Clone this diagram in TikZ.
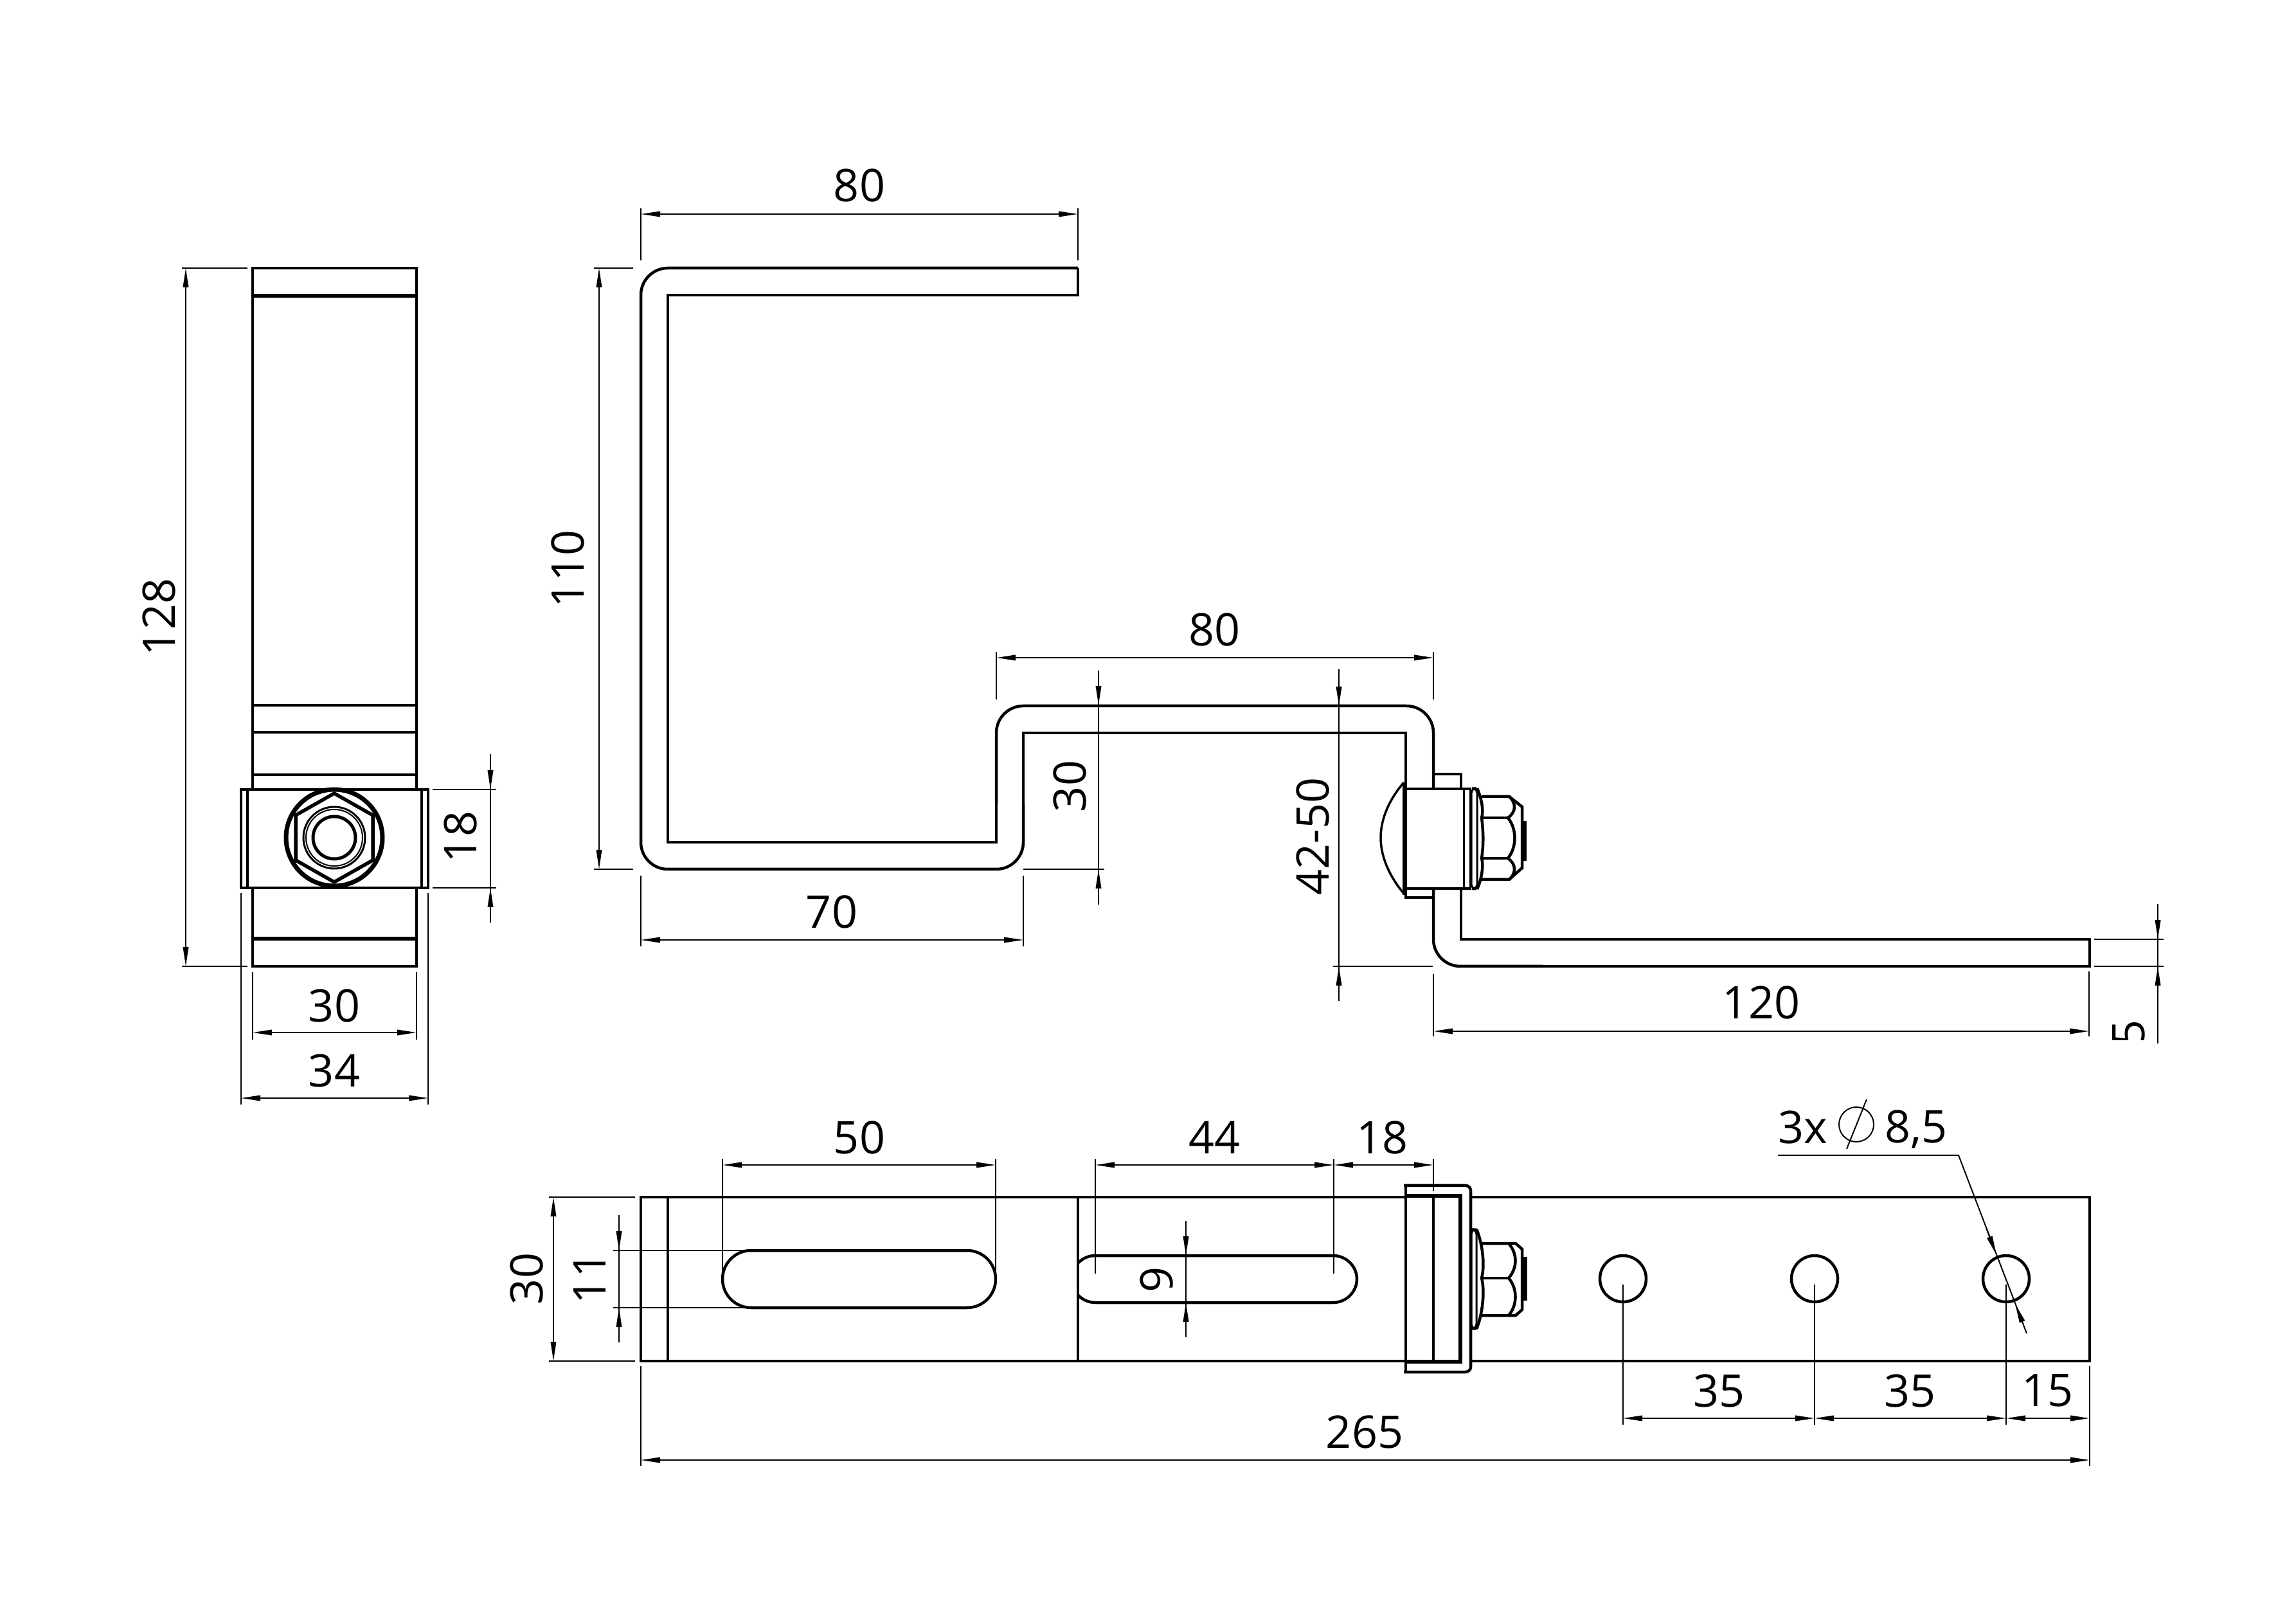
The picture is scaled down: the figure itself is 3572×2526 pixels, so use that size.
\documentclass[tikz,border=0pt]{standalone}
\usepackage{fontspec}
\setmainfont{Open Sans}
\usetikzlibrary{arrows.meta}
\tikzset{
    part/.style = {draw, line width=0.9pt, line join=miter}, % contour of the parts
    fine/.style = {draw, line width=0.4pt}, % extension lines
    dimen/.style = {fine, {Triangle[length=6pt,width=1.7pt]}-{Triangle[length=6pt,width=1.7pt]}},
    tipend/.style = {fine, -{Triangle[length=6pt,width=1.7pt]}},
    lab/.style = {inner sep=0pt, font=\fontsize{14}{16}\selectfont},
    labv/.style = {lab, rotate=90},
}
\begin{document}
\begin{tikzpicture}[x=0.2pt, y=-0.2pt]
    \useasboundingbox (0,0) rectangle (3572,2526);

    % left view
    \draw[part] (393,417) rectangle (648,1228);
    \draw[part] (393,1381) rectangle (648,1503);
    \draw[part, line width=1.2pt] (393,460) -- (648,460);
    \draw[part] (393,1097) -- (648,1097);
    \draw[part] (393,1139) -- (648,1139);
    \draw[part] (393,1205) -- (648,1205);
    \draw[part, line width=1.2pt] (393,1460) -- (648,1460);
    \draw[part] (375,1228) rectangle (666,1381);
    \draw[part] (385,1228) -- (385,1381);
    \draw[part] (656,1228) -- (656,1381);
    \draw[part, line width=1.4pt] (520,1303) circle[radius=75];
    \draw[part, line width=1.1pt] (520,1234) -- (580,1268) -- (580,1338) -- (520,1372) -- (460,1338) -- (460,1268) -- cycle;
    \draw[part, line width=0.6pt] (520,1303) circle[radius=48];
    \draw[part, line width=0.4pt] (520,1303) circle[radius=44];
    \draw[part, line width=1pt] (520,1303) circle[radius=33];

    % side view, bent strip
    \draw[part, rounded corners=8.4pt] (1677,417) -- (997,417) -- (997,1352) -- (1592,1352) -- (1592,1250);
    \draw[part] (1592,1250) -- (1592,1140) -- (2187,1140) -- (2187,1227);
    \draw[part] (1677,417) -- (1677,459) -- (1039,459) -- (1039,1310) -- (1550,1310) -- (1550,1250);
    \draw[part, rounded corners=8.4pt] (1550,1250) -- (1550,1098) -- (2230,1098) -- (2230,1227);
    \draw[part, rounded corners=8.4pt] (2230,1382) -- (2230,1503) -- (2400,1503);
    \draw[part] (2400,1503) -- (3251,1503) -- (3251,1461) -- (2273,1461) -- (2273,1382);

    % side view, bolt
    \draw[part] (2230,1204) -- (2273,1204) -- (2273,1227);
    \draw[part] (2187,1382) -- (2187,1396) -- (2230,1396);
    \draw[part, line width=1.4pt] (2185,1217) -- (2185,1392);
    \draw[part, line width=0.7pt] (2184,1217) .. controls (2160,1245) and (2148,1275) .. (2148,1303) .. controls (2148,1331) and (2160,1361) .. (2184,1390);
    \draw[part] (2185,1227) -- (2289,1227);
    \draw[part] (2185,1382) -- (2289,1382);
    \draw[part, line width=0.6pt] (2277,1227) -- (2277,1382);
    \draw[part, line width=0.6pt] (2287,1227) -- (2287,1382);
    \draw[part, line width=0.6pt, rounded corners=1.6pt] (2289,1226) rectangle (2298,1383);
    \draw[part] (2298,1226) .. controls (2306,1245) and (2308,1262) .. (2305,1272) .. controls (2308,1295) and (2308,1315) .. (2305,1335) .. controls (2308,1345) and (2306,1365) .. (2298,1383);
    \draw[part] (2305,1239) -- (2348,1239) -- (2368,1255) -- (2368,1350) -- (2348,1368) -- (2305,1368);
    \draw[part] (2305,1272) -- (2346,1272);
    \draw[part] (2305,1335) -- (2346,1335);
    \draw[part] (2346,1272) .. controls (2360,1290) and (2360,1317) .. (2346,1335);
    \draw[part] (2348,1239) .. controls (2358,1248) and (2360,1262) .. (2346,1272);
    \draw[part] (2348,1368) .. controls (2358,1359) and (2360,1345) .. (2346,1335);
    \draw[part, line width=1.6pt] (2371,1277) -- (2371,1339);

    % bottom view, plate
    \draw[part] (2187,1862) -- (997,1862) -- (997,2117) -- (2187,2117);
    \draw[part] (2288,1862) -- (3251,1862) -- (3251,2117) -- (2288,2117);
    \draw[part] (1039,1862) -- (1039,2117);
    \draw[part] (1677,1862) -- (1677,2117);
    \draw[part, rounded corners=8.9pt] (1124,1945) rectangle (1549,2034);
    \begin{scope}
        \clip (1677,1900) rectangle (2200,2080);
        \draw[part, rounded corners=7.4pt] (1667,1953) rectangle (2111,2026);
    \end{scope}
    \foreach \hx in {2525,2823,3121} {
        \draw[part] (\hx,1989) circle[radius=36];
    }

    % bottom view, clip and bolt
    \draw[part, rounded corners=1.6pt] (2184,1844) -- (2288,1844) -- (2288,2134) -- (2184,2134);
    \draw[part] (2187,1844) -- (2187,2134);
    \draw[part, line width=1.2pt] (2187,1860) -- (2272,1860) -- (2272,2118) -- (2187,2118);
    \draw[part] (2230,1860) -- (2230,2118);
    \draw[part, line width=0.6pt, rounded corners=1.6pt] (2289,1912) rectangle (2297,2067);
    \draw[part] (2297,1912) .. controls (2305,1930) and (2311,1965) .. (2305,1988) .. controls (2311,2011) and (2305,2049) .. (2297,2067);
    \draw[part] (2305,1934) -- (2358,1934) -- (2368,1943) -- (2368,2037) -- (2358,2046) -- (2305,2046);
    \draw[part] (2305,1988) -- (2347,1988);
    \draw[part] (2347,1934) .. controls (2361,1950) and (2361,1972) .. (2347,1988);
    \draw[part] (2347,2046) .. controls (2361,2030) and (2361,2004) .. (2347,1988);
    \draw[part, line width=1.6pt] (2372,1955) -- (2372,2023);

    % dimensions of the left view
    \draw[fine] (283,417) -- (385,417);
    \draw[fine] (283,1503) -- (385,1503);
    \draw[dimen] (289,417) -- (289,1503);
    \node[labv] (lenTotal) at (247,960) {128};
    \draw[fine] (673,1228) -- (772,1228);
    \draw[fine] (673,1381) -- (772,1381);
    \draw[fine] (763,1173) -- (763,1435);
    \draw[tipend] (763,1190) -- (763,1228);
    \draw[tipend] (763,1420) -- (763,1381);
    \node[labv] (lenClip) at (716,1302) {18};
    \draw[fine] (393,1512) -- (393,1617);
    \draw[fine] (648,1512) -- (648,1617);
    \draw[dimen] (393,1606) -- (648,1606);
    \node[lab] (widPlate) at (520,1564) {30};
    \draw[fine] (375,1389) -- (375,1718);
    \draw[fine] (666,1389) -- (666,1718);
    \draw[dimen] (375,1708) -- (666,1708);
    \node[lab] (widClip) at (520,1666) {34};

    % dimensions of the side view
    \draw[fine] (997,324) -- (997,405);
    \draw[fine] (1677,324) -- (1677,405);
    \draw[dimen] (997,333) -- (1677,333);
    \node[lab] (lenHook) at (1337,288) {80};
    \draw[fine] (924,417) -- (985,417);
    \draw[fine] (924,1352) -- (985,1352);
    \draw[dimen] (932,417) -- (932,1352);
    \node[labv] (hgtHook) at (883,885) {110};
    \draw[fine] (1550,1014) -- (1550,1088);
    \draw[fine] (2230,1014) -- (2230,1088);
    \draw[dimen] (1550,1023) -- (2230,1023);
    \node[lab] (lenBridge) at (1889,979) {80};
    \draw[fine] (1592,1352) -- (1718,1352);
    \draw[fine] (1709,1043) -- (1709,1407);
    \draw[tipend] (1709,1060) -- (1709,1097);
    \draw[tipend] (1709,1395) -- (1709,1352);
    \node[labv] (hgtRiser) at (1664,1223) {30};
    \draw[fine] (997,1362) -- (997,1472);
    \draw[fine] (1592,1362) -- (1592,1472);
    \draw[dimen] (997,1462) -- (1592,1462);
    \node[lab] (lenBase) at (1294,1418) {70};
    \draw[fine] (2083,1041) -- (2083,1557);
    \draw[fine] (2074,1503) -- (2229,1503);
    \draw[tipend] (2083,1060) -- (2083,1098);
    \draw[tipend] (2083,1540) -- (2083,1503);
    \node[labv] (hgtAdjust) at (2042,1301) {42-50};
    \draw[fine] (2230,1515) -- (2230,1612);
    \draw[fine] (3250,1511) -- (3250,1612);
    \draw[dimen] (2230,1604) -- (3250,1604);
    \node[lab] (lenFoot) at (2740,1559) {120};
    \draw[fine] (3258,1461) -- (3366,1461);
    \draw[fine] (3258,1503) -- (3366,1503);
    \draw[fine] (3357,1406) -- (3357,1623);
    \draw[tipend] (3357,1425) -- (3357,1461);
    \draw[tipend] (3357,1540) -- (3357,1503);
    \begin{scope}
        \clip (3280,1560) rectangle (3345,1618);
        \node[labv] (thick) at (3312,1606) {5};
    \end{scope}

    % dimensions of the bottom view
    \draw[fine] (854,1862) -- (988,1862);
    \draw[fine] (854,2117) -- (988,2117);
    \draw[dimen] (861,1862) -- (861,2117);
    \node[labv] (widStrip) at (819,1989) {30};
    \draw[fine] (954,1945) -- (1165,1945);
    \draw[fine] (954,2034) -- (1165,2034);
    \draw[fine] (963,1890) -- (963,2088);
    \draw[tipend] (963,1905) -- (963,1945);
    \draw[tipend] (963,2075) -- (963,2034);
    \node[labv] (widSlot) at (918,1988) {11};
    \draw[fine] (1124,1803) -- (1124,1990);
    \draw[fine] (1549,1803) -- (1549,1990);
    \draw[dimen] (1124,1812) -- (1549,1812);
    \node[lab] (lenSlot) at (1337,1769) {50};
    \draw[fine] (1704,1803) -- (1704,1981);
    \draw[fine] (2075,1803) -- (2075,1981);
    \draw[fine] (2230,1803) -- (2230,1853);
    \draw[dimen] (1704,1812) -- (2075,1812);
    \draw[dimen] (2075,1812) -- (2230,1812);
    \node[lab] (lenShort) at (1889,1769) {44};
    \node[lab] (posClip) at (2150,1769) {18};
    \draw[fine] (1845,1899) -- (1845,2080);
    \draw[tipend] (1845,1920) -- (1845,1953);
    \draw[tipend] (1845,2060) -- (1845,2026);
    \node[labv] (widShort) at (1799,1990) {9};
    \draw[fine] (2525,1998) -- (2525,2216);
    \draw[fine] (2823,1998) -- (2823,2216);
    \draw[fine] (3121,1998) -- (3121,2216);
    \draw[fine] (3251,2125) -- (3251,2280);
    \draw[fine] (997,2125) -- (997,2280);
    \draw[dimen] (2525,2206) -- (2823,2206);
    \draw[dimen] (2823,2206) -- (3121,2206);
    \draw[dimen] (3121,2206) -- (3251,2206);
    \node[lab] (stepA) at (2674,2163) {35};
    \node[lab] (stepB) at (2971,2163) {35};
    \node[lab] (stepEnd) at (3185,2163) {15};
    \draw[dimen] (997,2271) -- (3251,2271);
    \node[lab] (lenTotalB) at (2123,2227) {265};

    % hole callout
    \node[lab] (holeCount) at (2805,1754) {3x};
    \node[lab, anchor=base] (holeDia) at (2981,1778) {8,5};
    \draw[fine] (2888,1749) circle[radius=27];
    \draw[fine] (2873,1787) -- (2904,1710);
    \draw[fine] (2766,1797) -- (3047,1797) -- (3153,2074);
    \draw[tipend] (3090,1910) -- (3106,1952);
    \draw[tipend] (3147,2058) -- (3135,2028);
\end{tikzpicture}
\end{document}
